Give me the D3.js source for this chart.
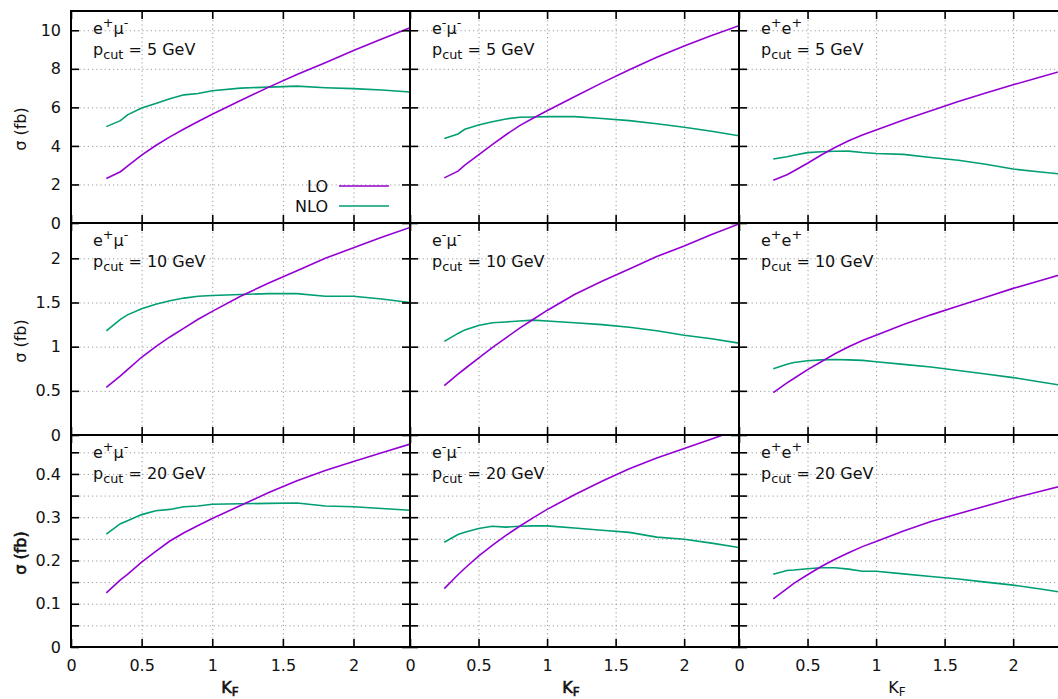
<!DOCTYPE html>
<html>
<head>
<meta charset="utf-8">
<script src="https://cdn.jsdelivr.net/npm/d3@7"></script>
<style>
  body { margin: 0; background: #fff; }
  svg { display: block; font-family: "DejaVu Sans", sans-serif; }
</style>
</head>
<body>
<svg width="1058" height="699"></svg>
<script>
// K_F sample points (same for every panel)
const kF = [0.25, 0.35, 0.4, 0.5, 0.6, 0.7, 0.8, 0.9, 1.0, 1.2, 1.4, 1.6, 1.8, 2.0, 2.2, 2.4];

// channel labels: [particle, charge, particle, charge]
const channels = [["e", "+", "μ", "-"], ["e", "-", "μ", "-"], ["e", "+", "e", "+"]];
const pcuts = [5, 10, 20];

// p_cut = 5 GeV
const lo_emu_5   = [2.31, 2.66, 2.95, 3.52, 4.02, 4.47, 4.88, 5.27, 5.64, 6.36, 7.05, 7.7, 8.32, 8.95, 9.55, 10.13];
const nlo_emu_5  = [5.0, 5.31, 5.61, 5.97, 6.2, 6.45, 6.65, 6.72, 6.86, 7.0, 7.05, 7.1, 7.02, 6.97, 6.9, 6.8];
const lo_emm_5   = [2.34, 2.69, 3.0, 3.53, 4.07, 4.58, 5.05, 5.45, 5.82, 6.55, 7.27, 7.95, 8.6, 9.18, 9.73, 10.24];
const nlo_emm_5  = [4.39, 4.62, 4.86, 5.09, 5.25, 5.4, 5.49, 5.5, 5.52, 5.52, 5.42, 5.31, 5.15, 4.97, 4.76, 4.53];
const lo_ee_5    = [2.22, 2.5, 2.7, 3.1, 3.53, 3.92, 4.27, 4.56, 4.83, 5.35, 5.82, 6.3, 6.75, 7.17, 7.58, 7.98];
const nlo_ee_5   = [3.32, 3.44, 3.52, 3.65, 3.7, 3.72, 3.73, 3.66, 3.61, 3.56, 3.4, 3.26, 3.05, 2.8, 2.65, 2.5];

// p_cut = 10 GeV
const lo_emu_10  = [0.54, 0.67, 0.74, 0.88, 1.0, 1.11, 1.21, 1.31, 1.40, 1.57, 1.72, 1.86, 2.0, 2.12, 2.24, 2.35];
const nlo_emu_10 = [1.18, 1.31, 1.36, 1.43, 1.48, 1.52, 1.55, 1.57, 1.58, 1.59, 1.6, 1.6, 1.57, 1.57, 1.54, 1.5];
const lo_emm_10  = [0.56, 0.69, 0.75, 0.87, 0.99, 1.1, 1.21, 1.31, 1.41, 1.59, 1.74, 1.88, 2.02, 2.14, 2.27, 2.39];
const nlo_emm_10 = [1.06, 1.15, 1.19, 1.24, 1.27, 1.28, 1.29, 1.3, 1.29, 1.27, 1.25, 1.22, 1.18, 1.13, 1.09, 1.04];
const lo_ee_10   = [0.48, 0.59, 0.64, 0.74, 0.83, 0.92, 1.0, 1.07, 1.13, 1.25, 1.36, 1.46, 1.56, 1.66, 1.75, 1.84];
const nlo_ee_10  = [0.75, 0.8, 0.82, 0.84, 0.85, 0.855, 0.85, 0.845, 0.83, 0.8, 0.77, 0.73, 0.69, 0.65, 0.6, 0.55];

// p_cut = 20 GeV
const lo_emu_20  = [0.125, 0.155, 0.168, 0.196, 0.221, 0.245, 0.264, 0.281, 0.297, 0.327, 0.357, 0.384, 0.408, 0.429, 0.449, 0.469];
const nlo_emu_20 = [0.261, 0.285, 0.292, 0.306, 0.315, 0.318, 0.324, 0.326, 0.33, 0.331, 0.332, 0.333, 0.326, 0.324, 0.32, 0.316];
const lo_emm_20  = [0.135, 0.167, 0.182, 0.21, 0.235, 0.258, 0.279, 0.299, 0.318, 0.352, 0.383, 0.412, 0.437, 0.459, 0.481, 0.503];
const nlo_emm_20 = [0.242, 0.26, 0.265, 0.274, 0.279, 0.277, 0.279, 0.28, 0.28, 0.275, 0.27, 0.265, 0.254, 0.249, 0.24, 0.23];
const lo_ee_20   = [0.111, 0.135, 0.147, 0.167, 0.186, 0.203, 0.218, 0.232, 0.244, 0.268, 0.29, 0.308, 0.326, 0.344, 0.36, 0.376];
const nlo_ee_20  = [0.168, 0.177, 0.178, 0.181, 0.183, 0.183, 0.18, 0.175, 0.175, 0.169, 0.163, 0.157, 0.15, 0.143, 0.134, 0.124];

const loRows  = [[lo_emu_5, lo_emm_5, lo_ee_5], [lo_emu_10, lo_emm_10, lo_ee_10], [lo_emu_20, lo_emm_20, lo_ee_20]];
const nloRows = [[nlo_emu_5, nlo_emm_5, nlo_ee_5], [nlo_emu_10, nlo_emm_10, nlo_ee_10], [nlo_emu_20, nlo_emm_20, nlo_ee_20]];

// axes
const xDomain = [0, 2.4];
const xTicks = [0, 0.5, 1, 1.5, 2];
const yDomains = [[0, 11], [0, 2.4], [0, 0.49]];
const yTicks = [
  [0, 2, 4, 6, 8, 10],
  [0, 0.5, 1, 1.5, 2],
  [0, 0.05, 0.1, 0.15, 0.2, 0.25, 0.3, 0.35, 0.4, 0.45]
];
const yLabelStep = [2, 0.5, 0.1];
const seriesNames = ["LO", "NLO"];
const colors = { LO: "#9400d3", NLO: "#009e73" };

// layout
const cols = [{ x: 71, w: 339 }, { x: 410, w: 329 }, { x: 739, w: 329 }];
const rows = [{ y: 11, h: 212 }, { y: 223, h: 212 }, { y: 435, h: 212 }];
const xLabelX = [230, 571, 897];
const fs = 16, tick = 8;

const svg = d3.select("svg");
const defs = svg.append("defs");

function fmt(v) { return d3.format("~g")(+v.toFixed(3)); }

rows.forEach(function (row, r) {
  cols.forEach(function (col, c) {
    const w = col.w, h = row.h;
    const x = d3.scaleLinear().domain(xDomain).range([0, w]);
    const y = d3.scaleLinear().domain(yDomains[r]).range([h, 0]);
    const g = svg.append("g").attr("transform", "translate(" + col.x + "," + row.y + ")");

    const clipId = "clip" + r + c;
    defs.append("clipPath").attr("id", clipId)
      .append("rect").attr("width", w).attr("height", h);

    // grid
    const gx = g.append("g").attr("class", "grid")
      .attr("transform", "translate(0," + h + ")")
      .call(d3.axisBottom(x).tickValues(xTicks.filter(d => d > 0)).tickSize(-h).tickFormat(""));
    const gy = g.append("g").attr("class", "grid")
      .call(d3.axisLeft(y).tickValues(yTicks[r].filter(d => d > 0)).tickSize(-w).tickFormat(""));
    [gx, gy].forEach(function (s) {
      s.select(".domain").remove();
      s.selectAll("line").attr("stroke", "#9a9a9a").attr("stroke-width", 1).attr("stroke-dasharray", "1.2,3");
    });

    // curves
    const line = d3.line()
      .x(function (d, i) { return x(kF[i]); })
      .y(function (d) { return y(d); });
    const curves = g.append("g").attr("clip-path", "url(#" + clipId + ")");
    [["NLO", nloRows[r][c]], ["LO", loRows[r][c]]].forEach(function (s) {
      curves.append("path").datum(s[1])
        .attr("d", line)
        .attr("fill", "none")
        .attr("stroke", colors[s[0]])
        .attr("stroke-width", 1.6);
    });

    // ticks (inward on all four sides)
    const yFmt = function (d) {
      if (c !== 0) return "";
      const k = d / yLabelStep[r];
      return Math.abs(k - Math.round(k)) < 1e-6 ? fmt(d) : "";
    };
    const axes = [
      g.append("g").call(d3.axisLeft(y).tickValues(yTicks[r]).tickSizeInner(-tick).tickSizeOuter(0).tickPadding(10).tickFormat(yFmt)),
      g.append("g").attr("transform", "translate(" + w + ",0)")
        .call(d3.axisRight(y).tickValues(yTicks[r]).tickSizeInner(-tick).tickSizeOuter(0).tickFormat("")),
      g.append("g").attr("transform", "translate(0," + h + ")")
        .call(d3.axisBottom(x).tickValues(xTicks).tickSizeInner(-tick).tickSizeOuter(0).tickPadding(13)
          .tickFormat(function (d) { return r === 2 ? fmt(d) : ""; })),
      g.append("g").call(d3.axisTop(x).tickValues(xTicks).tickSizeInner(-tick).tickSizeOuter(0).tickFormat(""))
    ];
    axes.forEach(function (a) {
      a.select(".domain").remove();
      a.selectAll("line").attr("stroke", "#000").attr("stroke-width", 1.6);
      a.selectAll("text").attr("font-size", fs).attr("font-family", "DejaVu Sans, sans-serif").attr("fill", "#111");
    });

    // border
    g.append("rect").attr("width", w).attr("height", h)
      .attr("fill", "none").attr("stroke", "#000").attr("stroke-width", 2);

    // channel + cut annotation
    const ch = channels[c];
    const t1 = g.append("text").attr("x", 22).attr("y", 23).attr("font-size", fs).attr("fill", "#111");
    t1.append("tspan").text(ch[0]);
    t1.append("tspan").attr("dy", -7).attr("font-size", fs * 0.8).text(ch[1]);
    t1.append("tspan").attr("dy", 7).text(ch[2]);
    t1.append("tspan").attr("dy", -7).attr("font-size", fs * 0.8).text(ch[3]);
    const t2 = g.append("text").attr("x", 22).attr("y", 44).attr("font-size", fs).attr("fill", "#111");
    t2.append("tspan").text("p");
    t2.append("tspan").attr("dy", 4).attr("font-size", fs * 0.8).text("cut");
    t2.append("tspan").attr("dy", -4).text(" = " + pcuts[r] + " GeV");

    // legend in the first panel
    if (r === 0 && c === 0) {
      seriesNames.forEach(function (name, i) {
        const ly = 175 + i * 20;
        g.append("text").attr("x", 257).attr("y", ly).attr("dy", "0.35em")
          .attr("text-anchor", "end").attr("font-size", fs).attr("fill", "#111").text(name);
        g.append("line").attr("x1", 268).attr("x2", 318).attr("y1", ly).attr("y2", ly)
          .attr("stroke", colors[name]).attr("stroke-width", 1.6);
      });
    }

    // y axis title
    if (c === 0) {
      g.append("text")
        .attr("transform", "translate(" + (20 - col.x) + "," + (h / 2 + 12) + ") rotate(-90)")
        .attr("text-anchor", "middle").attr("dy", "0.35em")
        .attr("font-size", fs).attr("fill", "#111")
        .attr("stroke", r === 2 ? "#111" : "none").attr("stroke-width", 0.6)
        .text("σ (fb)");
    }

    // x axis title
    if (r === 2) {
      const tx = g.append("text").attr("x", xLabelX[c] - col.x).attr("y", 693 - row.y)
        .attr("text-anchor", "middle").attr("font-size", fs).attr("fill", "#111")
        .attr("stroke", c < 2 ? "#111" : "none").attr("stroke-width", 0.6);
      tx.append("tspan").text("K");
      tx.append("tspan").attr("dy", 3).attr("font-size", fs * 0.75).text("F");
    }
  });
});
</script>
</body>
</html>
